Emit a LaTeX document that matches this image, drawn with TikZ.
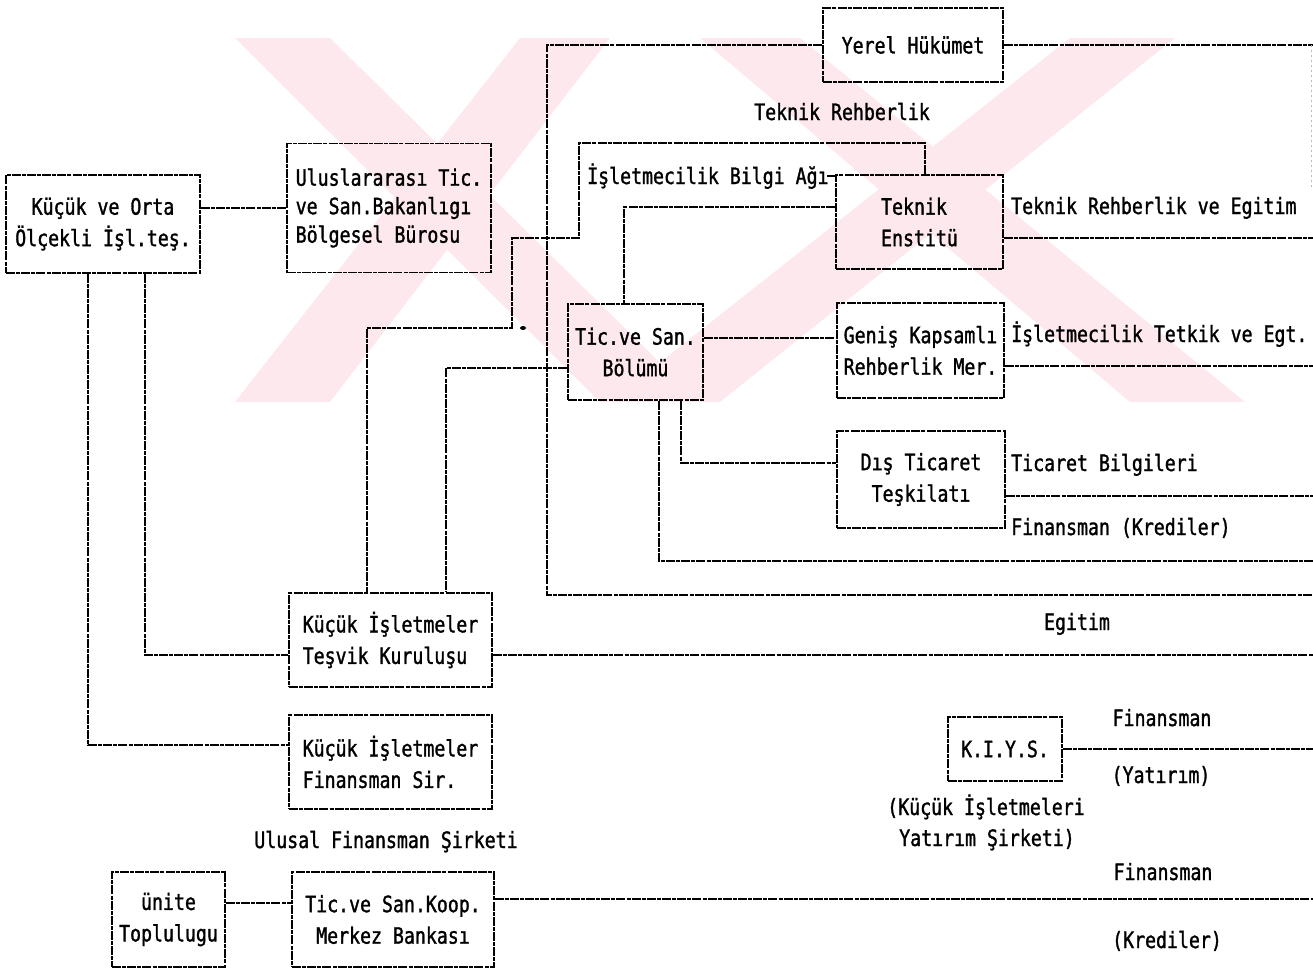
\documentclass[tikz,border=0pt]{standalone}
\usepackage{fontspec}
\newfontfamily\dotfont{DejaVu Sans Mono}[FakeStretch=0.81,FakeBold=1.3]
\newcommand\dmfont{\dotfont\fontsize{22.5}{31.5}\selectfont}
\newcommand\dmtight{\dotfont\fontsize{22.5}{28.5}\selectfont}
\definecolor{wmpink}{RGB}{253,233,237}
\begin{document}
\begin{tikzpicture}[x=1pt,y=-1pt,
  lk/.style={line width=1.5pt, dash pattern=on 9pt off 1.2pt on 4pt off 1pt},
  blk/.style={draw, lk, inner sep=0pt, align=center, font=\dmfont},
  blkl/.style={blk, align=left},
  lbl/.style={inner sep=0pt, font=\dmfont, text height=16pt, text depth=0pt},
  faint/.style={gray!55, line width=0.8pt, dash pattern=on 2pt off 3pt},
  wm/.style={fill=wmpink}
]
\useasboundingbox (0,0) rectangle (1313,969);

% background emblem
\fill[wm] (235,38) -- (330,38) -- (700,402) -- (600,402) -- cycle;
\fill[wm] (520,38) -- (610,38) -- (330,402) -- (235,402) -- cycle;
\fill[wm] (700,38) -- (800,38) -- (1245,402) -- (1130,402) -- cycle;
\fill[wm] (1070,38) -- (1175,38) -- (720,402) -- (610,402) -- cycle;

% boxes
\node[blk, minimum width=194, minimum height=98] (kob) at (103,224) {Küçük ve Orta\\Ölçekli İşl.teş.};
\node[blkl, font=\dmtight, minimum width=204, minimum height=129] (ulu) at (389,208) {Uluslararası Tic.\\ve San.Bakanlıgı\\Bölgesel Bürosu};
\node[blk, minimum width=180, minimum height=74] (yerel) at (913,45) {Yerel Hükümet};
\node[blkl, minimum width=167, minimum height=94] (tek) at (919.5,222) {Teknik\\Enstitü};
\node[blk, minimum width=135, minimum height=96] (tic) at (635.5,352) {Tic.ve San.\\Bölümü};
\node[blkl, minimum width=167, minimum height=95] (gen) at (920.5,350.5) {Geniş Kapsamlı\\Rehberlik Mer.};
\node[blk, minimum width=168, minimum height=97] (dis) at (921,479.5) {Dış Ticaret\\Teşkilatı};
\node[blkl, minimum width=203, minimum height=94] (tes) at (390.5,640) {Küçük İşletmeler\\Teşvik Kuruluşu};
\node[blkl, minimum width=203, minimum height=94] (fin) at (390.5,762) {Küçük İşletmeler\\Finansman Sir.};
\node[blk, minimum width=113, minimum height=95] (uni) at (168.5,919.5) {ünite\\Toplulugu};
\node[blk, minimum width=202, minimum height=95] (koop) at (393,919.5) {Tic.ve San.Koop.\\Merkez Bankası};
\node[blk, minimum width=114, minimum height=64] (kiys) at (1005,749) {K.I.Y.S.};

% labels
\node[lbl] (l1) at (842,112) {Teknik Rehberlik};
\node[lbl, anchor=west] (l2) at (587,176) {İşletmecilik Bilgi Ağı};
\node[lbl, anchor=west] (l3) at (1011,206) {Teknik Rehberlik ve Egitim};
\node[lbl, anchor=west] (l4) at (1011,334) {İşletmecilik Tetkik ve Egt.};
\node[lbl, anchor=west] (l5) at (1011,463) {Ticaret Bilgileri};
\node[lbl, anchor=west] (l6) at (1011,527) {Finansman (Krediler)};
\node[lbl] (l7) at (1077,622) {Egitim};
\node[lbl] (l8) at (1162,718) {Finansman};
\node[lbl] (l9) at (1161,775) {(Yatırım)};
\node[lbl] (l10) at (986,807) {(Küçük İşletmeleri};
\node[lbl] (l11) at (987,838) {Yatırım Şirketi)};
\node[lbl] (l12) at (1163,872) {Finansman};
\node[lbl] (l13) at (1167,940) {(Krediler)};
\node[lbl] (l14) at (386,840) {Ulusal Finansman Şirketi};

% bend points and open ends on the right margin
\coordinate (eR) at (1313,0);
\coordinate (v547) at (547,595);
\coordinate (e595) at (1313,595);
\coordinate (e45) at (1313,45);
\coordinate (e190) at (1311,190);
\coordinate (e238) at (1313,238);
\coordinate (e366) at (1313,366);
\coordinate (e496) at (1313,496);
\coordinate (e561) at (1313,561);
\coordinate (e655) at (1313,655);
\coordinate (e899) at (1313,899);
\coordinate (b1) at (925,143);
\coordinate (b2) at (579,238);
\coordinate (b3) at (512,238);
\coordinate (b4) at (367,328);
\coordinate (c1) at (624,207);
\coordinate (c2) at (770,338);
\coordinate (c3) at (681,463);
\coordinate (c4) at (659,561);
\coordinate (c5) at (446,368);
\coordinate (c6) at (145,655);
\coordinate (c7) at (88,745);
\coordinate (c8) at (258,903);
\coordinate (ag) at (827,176);
\coordinate (dot) at (523,328);

% connectors
\draw[lk] (kob.east |- ulu.west) -- (ulu.west);
\draw[lk] (yerel.west) -| (v547) -- (e595);
\draw[lk] (yerel.east) -- (e45);
\draw[faint] (e45 -| e190) -- (e190);
\draw[lk] (b1 |- tek.north) -- (b1) -| (b2) -- (b3) |- (b4) -- (b4 |- tes.north);
\draw[lk] (ag) -- (ag -| tek.west);
\draw[lk] (tek.west |- c1) -| (tic.north -| c1);
\draw[lk] (tek.east |- e238) -- (e238);
\draw[lk] (tic.east |- c2) -- (gen.west |- c2);
\draw[lk] (gen.east |- e366) -- (e366);
\draw[lk] (tic.south -| c3) |- (dis.west |- c3);
\draw[lk] (dis.east |- e496) -- (e496);
\draw[lk] (tic.south -| c4) |- (e561);
\draw[lk] (tic.west |- c5) -| (tes.north -| c5);
\draw[lk] (tes.east |- e655) -- (e655);
\draw[lk] (kob.south -| c6) |- (tes.west |- c6);
\draw[lk] (kob.south -| c7) |- (fin.west |- c7);
\draw[lk] (uni.east |- c8) -- (koop.west |- c8);
\draw[lk] (koop.east |- e899) -- (e899);
\draw[lk] (kiys.east) -- (kiys.east -| eR);
\fill (dot) ellipse (3 and 2);
\end{tikzpicture}
\end{document}
